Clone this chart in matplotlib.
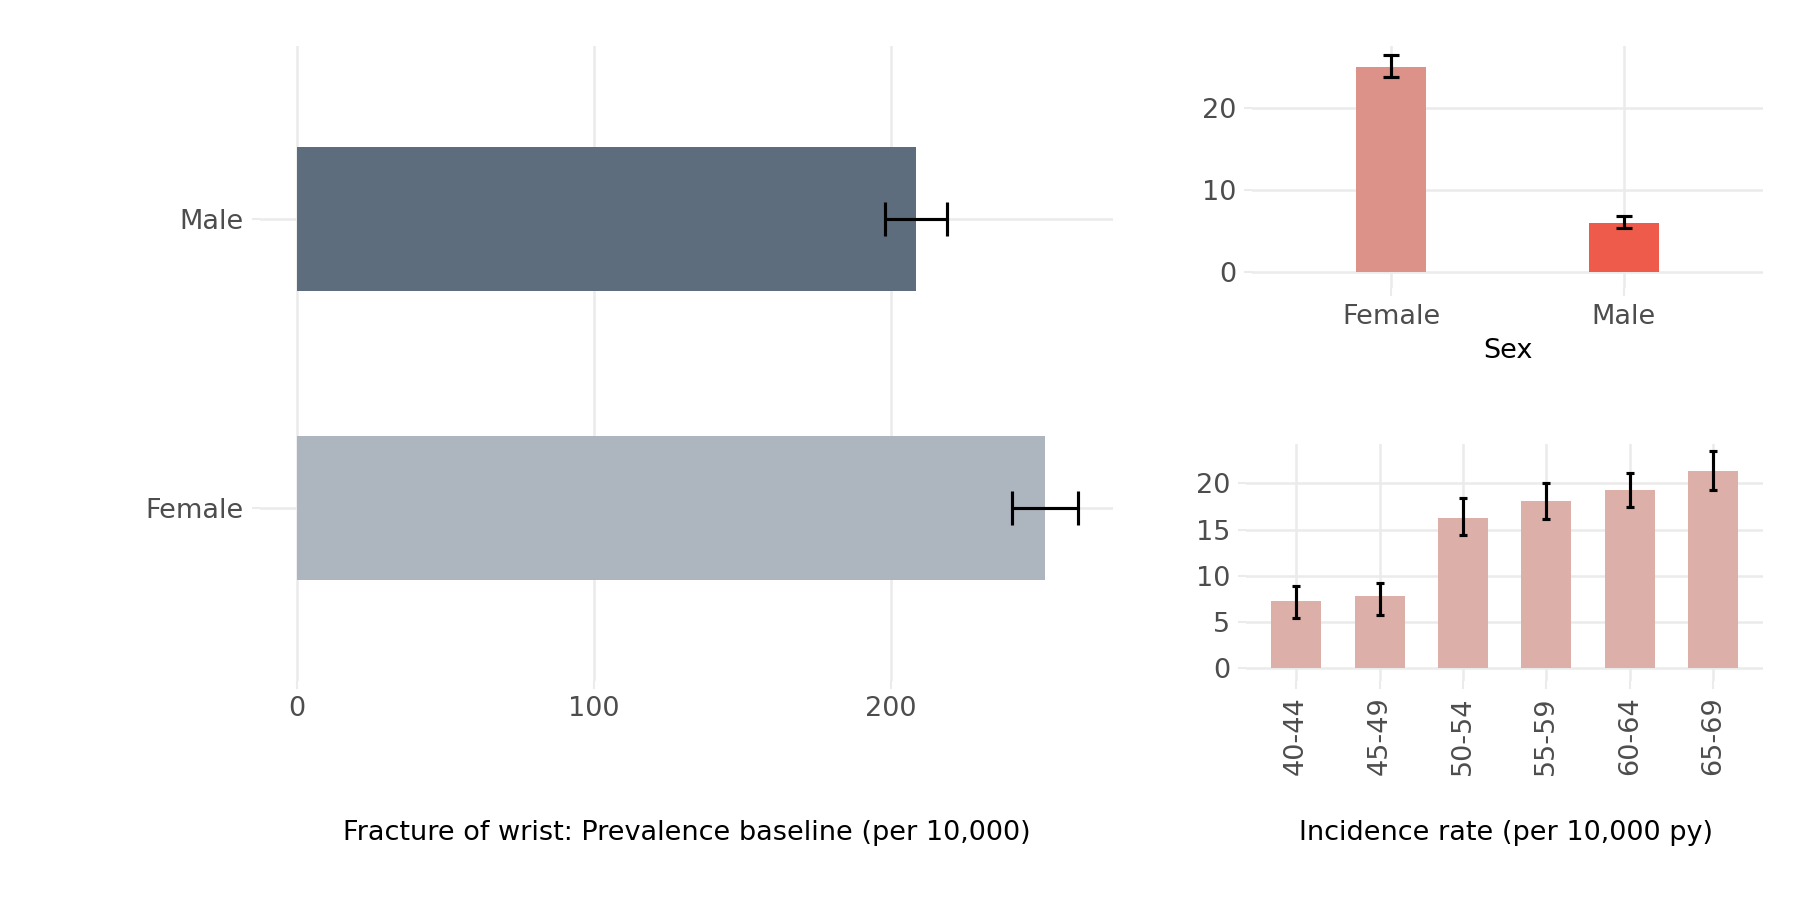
import matplotlib
matplotlib.use("Agg")
import matplotlib.pyplot as plt

sex = ["Female", "Male"]
prev = [252, 208.6]
prev_lo = [241, 198]
prev_hi = [263, 219]

inc_sex = [25.1, 6.05]
inc_sex_lo = [23.8, 5.4]
inc_sex_hi = [26.5, 6.8]

ages = ["40-44", "45-49", "50-54", "55-59", "60-64", "65-69"]
inc_age = [7.25, 7.75, 16.25, 18.1, 19.25, 21.4]
inc_age_lo = [5.4, 5.75, 14.4, 16.1, 17.4, 19.25]
inc_age_hi = [8.9, 9.25, 18.4, 20.1, 21.1, 23.5]

GRID = "#EBEBEB"
TXT = "#4D4D4D"
FS = 13

fig = plt.figure(figsize=(12, 6), dpi=150)

def style(ax):
    for s in ax.spines.values():
        s.set_visible(False)
    ax.tick_params(colors=GRID, labelcolor=TXT, labelsize=FS, length=4, width=1)
    ax.set_axisbelow(True)

W, H = 1560, 780
def rect(l, t, r, b):
    return [l / W, 1 - b / H, (r - l) / W, (b - t) / H]

# Left panel
ax1 = fig.add_axes(rect(225, 40, 965, 590))
ypos = [1, 2]
ax1.barh(ypos, prev, height=0.5, color=["#ADB5BE", "#5D6D7E"])
xerr = [[p - l for p, l in zip(prev, prev_lo)], [h - p for p, h in zip(prev, prev_hi)]]
ax1.errorbar(prev, ypos, xerr=xerr, fmt="none", ecolor="black", elinewidth=1.5, capsize=8, capthick=1.5)
ax1.set_yticks(ypos)
ax1.set_yticklabels(sex)
ax1.set_xticks([0, 100, 200])
ax1.set_xlim(-12.5, 275)
ax1.set_ylim(0.4, 2.6)
ax1.grid(True, color=GRID, linewidth=1.2)
style(ax1)
fig.text(595 / W, 1 - 722 / H, "Fracture of wrist: Prevalence baseline (per 10,000)", ha="center", va="center", fontsize=FS)

# Top right
ax2 = fig.add_axes(rect(1085, 40, 1528, 250))
xs = [0, 1]
ax2.bar(xs, inc_sex, width=0.3, color=["#DC9189", "#EE5B4B"])
yerr = [[v - l for v, l in zip(inc_sex, inc_sex_lo)], [h - v for v, h in zip(inc_sex, inc_sex_hi)]]
ax2.errorbar(xs, inc_sex, yerr=yerr, fmt="none", ecolor="black", elinewidth=1.5, capsize=4, capthick=1.5)
ax2.set_xticks(xs)
ax2.set_xticklabels(sex)
ax2.set_yticks([0, 10, 20])
ax2.set_xlim(-0.6, 1.6)
ax2.set_ylim(-2, 27.6)
ax2.grid(True, color=GRID, linewidth=1.2)
ax2.set_xlabel("Sex", fontsize=FS, color="black")
style(ax2)

# Bottom right
ax3 = fig.add_axes(rect(1080, 385, 1528, 590))
xa = list(range(len(ages)))
ax3.bar(xa, inc_age, width=0.6, color="#DCAFA8")
yerr = [[v - l for v, l in zip(inc_age, inc_age_lo)], [h - v for v, h in zip(inc_age, inc_age_hi)]]
ax3.errorbar(xa, inc_age, yerr=yerr, fmt="none", ecolor="black", elinewidth=1.5, capsize=2, capthick=1.5)
ax3.set_xticks(xa)
ax3.set_xticklabels(ages, rotation=90)
ax3.set_yticks([0, 5, 10, 15, 20])
ax3.set_xlim(-0.6, 5.6)
ax3.set_ylim(-1.4, 24.25)
ax3.grid(True, color=GRID, linewidth=1.2)
style(ax3)
fig.text(1305 / W, 1 - 722 / H, "Incidence rate (per 10,000 py)", ha="center", va="center", fontsize=FS)

fig.savefig("out.png", dpi=150, facecolor="white")
